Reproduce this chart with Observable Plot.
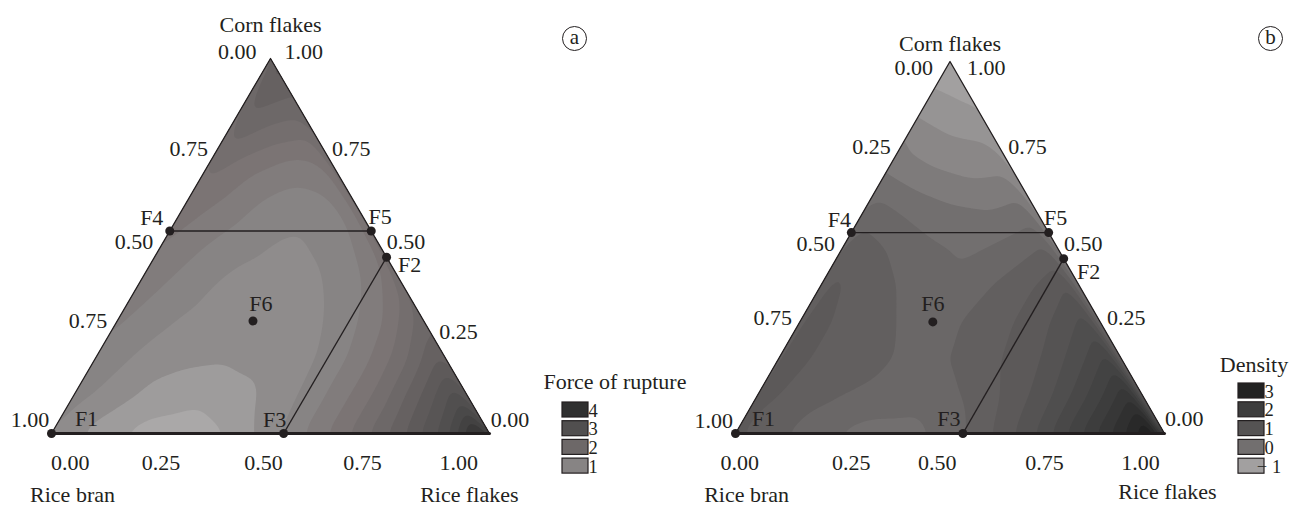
<!DOCTYPE html>
<html>
<head>
<meta charset="utf-8">
<script src="https://cdn.jsdelivr.net/npm/d3@7"></script>
<script src="https://cdn.jsdelivr.net/npm/@observablehq/plot@0.6"></script>
<style>
  html, body { margin: 0; padding: 0; background: #fff; }
  #wrap { position: relative; width: 1303px; height: 508px; overflow: hidden; }
  #wrap svg { position: absolute; top: 0; background: transparent; overflow: visible; }
</style>
</head>
<body>
<div id="wrap"></div>
<script>
// ---------------- data ----------------
const axisTitles = ["Corn flakes", "Rice bran", "Rice flakes"];
const designLabels = ["F1", "F2", "F3", "F4", "F5", "F6"];
const designCorn   = [0.00, 0.47, 0.00, 0.54, 0.54, 0.30];
const designFlakes = [0.00, 0.53, 0.53, 0.00, 0.46, 0.31];
const designLines  = [["F4", "F5"], ["F2", "F3"]];

// response on a lattice of step 0.1
// row i: corn = i/10 ; column j: rice flakes = j/10
const ruptureRows = [
  [1.00, 0.65, 0.42, 0.38, 0.50, 0.90, 1.35, 1.85, 2.45, 3.15, 4.60],
  [1.10, 0.85, 0.62, 0.55, 0.70, 0.95, 1.35, 1.85, 2.55, 3.35],
  [1.20, 0.95, 0.82, 0.78, 0.82, 0.98, 1.35, 1.90, 2.65],
  [1.30, 1.05, 0.90, 0.85, 0.88, 1.05, 1.45, 2.15],
  [1.40, 1.15, 0.95, 0.90, 0.95, 1.20, 1.75],
  [1.50, 1.25, 1.05, 0.95, 1.10, 1.50],
  [1.65, 1.40, 1.15, 1.10, 1.40],
  [1.85, 1.55, 1.35, 1.50],
  [2.15, 1.90, 1.80],
  [2.45, 2.25],
  [2.70]
];
const densityRows = [
  [0.80, 0.55, 0.30, 0.15, 0.15, 0.35, 0.75, 1.25, 1.95, 2.70, 3.60],
  [0.85, 0.65, 0.50, 0.40, 0.35, 0.55, 0.85, 1.30, 1.95, 2.75],
  [0.90, 0.70, 0.60, 0.45, 0.50, 0.70, 0.95, 1.40, 2.05],
  [0.90, 0.70, 0.55, 0.35, 0.55, 0.75, 1.05, 1.50],
  [0.85, 0.65, 0.45, 0.30, 0.50, 0.75, 1.10],
  [0.70, 0.50, 0.30, 0.20, 0.35, 0.60],
  [0.40, 0.20, 0.05, 0.00, 0.15],
  [0.00, -0.20, -0.30, -0.25],
  [-0.35, -0.50, -0.55],
  [-0.65, -0.80],
  [-1.00]
];

// tick labels (as printed) and where they sit (fraction along each side)
const ticksA = {
  leftLabels:   ["0.75", "0.50", "0.75", "1.00"], leftAt:   [0.76, 0.51, 0.30, 0.035],
  rightLabels:  ["0.75", "0.50", "0.25", "0.00"], rightAt:  [0.76, 0.51, 0.27, 0.035],
  bottomLabels: ["0.00", "0.25", "0.50", "0.75", "1.00"], bottomAt: [0.043, 0.25, 0.484, 0.71, 0.93],
  topLabels: ["0.00", "1.00"]
};
const ticksB = {
  leftLabels:   ["0.25", "0.50", "0.75", "1.00"], leftAt:   [0.77, 0.51, 0.31, 0.035],
  rightLabels:  ["0.75", "0.50", "0.25", "0.00"], rightAt:  [0.77, 0.51, 0.31, 0.04],
  bottomLabels: ["0.00", "0.25", "0.50", "0.75", "1.00"], bottomAt: [0.01, 0.27, 0.47, 0.72, 0.944],
  topLabels: ["0.00", "1.00"]
};

const legendA = { title: "Force of rupture", values: [4, 3, 2, 1], labels: ["4", "3", "2", "1"] };
const legendB = { title: "Density", values: [3, 2, 1, 0, -1], labels: ["3", "2", "1", "0", "\u2212 1"] };

const paletteA = {
  domain: [0.3, 0.75, 1.0, 1.5, 2.0, 2.5, 3.0, 3.5, 4.0, 4.6],
  range: ["#aaa8a8", "#8f8c8c", "#878484", "#7b7474", "#6d6868", "#5e5a5a", "#514f4f", "#434242", "#303030", "#0a0a0a"]
};
const paletteB = {
  domain: [-1, -0.5, 0, 0.5, 1.0, 1.5, 2.0, 2.5, 3.0, 3.5],
  range: ["#a2a0a0", "#8a8787", "#726f6f", "#625f5f", "#555353", "#494848", "#3d3d3d", "#303030", "#222222", "#080808"]
};

// ---------------- drawing ----------------
const INK = "#231f20";
const FONT = "'Liberation Serif', 'Times New Roman', serif";

function drawPanel(cfg) {
  const n = cfg.rows.length - 1;
  const grid = [];
  cfg.rows.forEach((row, i) => row.forEach((v, j) => grid.push({ c: i / n, f: j / n, v })));
  const X = d => d.f + d.c / 2;
  const Y = d => d.c;

  const design = designLabels.map((label, i) => ({ label, c: designCorn[i], f: designFlakes[i] }));
  const byLabel = Object.fromEntries(design.map(d => [d.label, d]));
  const links = designLines.map(([a, b]) => ({ a: byLabel[a], b: byLabel[b] }));
  const outline = [{ c: 0, f: 0 }, { c: 0, f: 1 }, { c: 1, f: 0 }, { c: 0, f: 0 }];
  const base = [{ c: 0, f: 0 }, { c: 0, f: 1 }];

  const t = cfg.ticks;
  const leftTicks = t.leftLabels.map((label, i) => ({ label, c: t.leftAt[i], f: 0 }));
  const rightTicks = t.rightLabels.map((label, i) => ({ label, c: t.rightAt[i], f: 1 - t.rightAt[i] }));
  const bottomTicks = t.bottomLabels.map((label, i) => ({ label, c: 0, f: t.bottomAt[i] }));
  const apex = [{ c: 1, f: 0 }];

  const off = cfg.labelOffsets;

  const plot = Plot.plot({
    width: cfg.width, height: 508,
    marginLeft: cfg.ml, marginRight: cfg.mr, marginTop: cfg.mt, marginBottom: cfg.mb,
    x: { domain: [0, 1], axis: null },
    y: { domain: [0, 1], axis: null },
    color: { type: "linear", domain: cfg.palette.domain, range: cfg.palette.range, clamp: true },
    style: { fontFamily: FONT, fontSize: "22px", color: INK, background: "transparent", overflow: "visible" },
    marks: [
      Plot.contour(grid, {
        x: X, y: Y, value: "v", fill: "value",
        interpolate: "barycentric", thresholds: cfg.thresholds, blur: 3, stroke: "none"
      }),
      Plot.line(outline, { x: X, y: Y, stroke: INK, strokeWidth: 1.3 }),
      Plot.line(base, { x: X, y: Y, stroke: INK, strokeWidth: 3 }),
      Plot.link(links, { x1: d => X(d.a), y1: d => Y(d.a), x2: d => X(d.b), y2: d => Y(d.b), stroke: INK, strokeWidth: 1.4 }),
      Plot.dot(design, { x: X, y: Y, r: 4.5, fill: INK }),
      Plot.text(design, { x: X, y: Y, text: "label", fill: INK }),
      // axis tick labels
      Plot.text(leftTicks, { x: X, y: Y, text: "label", textAnchor: "end", dx: -10, fill: INK }),
      Plot.text(rightTicks, { x: X, y: Y, text: "label", textAnchor: "start", dx: 9, fill: INK }),
      Plot.text(bottomTicks, { x: X, y: Y, text: "label", dy: 29, fill: INK }),
      Plot.text(apex, { x: X, y: Y, text: () => t.topLabels[0], textAnchor: "end", dx: -cfg.topDx, dy: cfg.topDy, fill: INK }),
      Plot.text(apex, { x: X, y: Y, text: () => t.topLabels[1], textAnchor: "start", dx: cfg.topDx, dy: cfg.topDy, fill: INK }),
      // axis titles
      Plot.text(apex, { x: X, y: Y, text: () => axisTitles[0], dy: cfg.cornDy, fill: INK }),
      Plot.text([{ c: 0, f: cfg.branAt }], { x: X, y: Y, text: () => axisTitles[1], dy: cfg.branDy, fill: INK }),
      Plot.text([{ c: 0, f: cfg.flakesAt }], { x: X, y: Y, text: () => axisTitles[2], dy: cfg.flakesDy, fill: INK }),
      // panel letter
      Plot.dot([0], { frameAnchor: "top-right", dx: cfg.letterDx, dy: cfg.letterDy, r: 12, stroke: INK, strokeWidth: 1, fill: "none" }),
      Plot.text([cfg.letter], { frameAnchor: "top-right", dx: cfg.letterDx, dy: cfg.letterDy - 1, text: d => d,
        textAnchor: "middle", lineAnchor: "middle", fill: INK, fontSize: 21 })
    ]
  });

  // position the design-point labels (offsets are layout only)
  const labelGroup = Array.from(plot.querySelectorAll('g[aria-label="text"]'))[0];
  if (labelGroup) {
    labelGroup.querySelectorAll("text").forEach((el, i) => {
      const o = off[designLabels[i]];
      const tr = el.getAttribute("transform") || "";
      el.setAttribute("transform", tr + ` translate(${o[0]},${o[1]})`);
    });
  }

  // clip the contour bands to the triangle
  const xs = plot.scale("x"), ys = plot.scale("y");
  const pts = [[0, 0], [1, 0], [0.5, 1]].map(([a, b]) => [xs.apply(a), ys.apply(b)]);
  const sel = d3.select(plot);
  const clipId = "clip-" + cfg.letter;
  sel.insert("defs", ":first-child").append("clipPath").attr("id", clipId)
    .append("polygon").attr("points", pts.map(p => p.join(",")).join(" "));
  sel.select('g[aria-label="contour"]').attr("clip-path", `url(#${clipId})`);

  // legend
  const col = plot.scale("color");
  const lg = sel.append("g").attr("font-family", FONT).attr("fill", INK);
  lg.append("text").attr("x", cfg.legend.titleX).attr("y", cfg.legend.titleY)
    .attr("text-anchor", "middle").attr("dominant-baseline", "central").attr("font-size", 22).text(cfg.legendData.title);
  cfg.legendData.values.forEach((v, i) => {
    const y0 = cfg.legend.top + i * cfg.legend.step;
    lg.append("rect").attr("x", cfg.legend.x).attr("y", y0).attr("width", cfg.legend.w).attr("height", cfg.legend.h)
      .attr("fill", col.apply(v)).attr("stroke", INK).attr("stroke-width", 1.2);
    lg.append("text").attr("x", cfg.legend.x + cfg.legend.w + 5).attr("y", y0 + cfg.legend.h / 2 + 1)
      .attr("dominant-baseline", "central").attr("font-size", 18.5).text(cfg.legendData.labels[i]);
  });

  plot.style.left = cfg.left + "px";
  document.getElementById("wrap").appendChild(plot);
}

drawPanel({
  letter: "a", left: 0, width: 710, ml: 51, mr: 221, mt: 58, mb: 75,
  rows: ruptureRows, palette: paletteA, thresholds: d3.range(0, 5, 0.25),
  ticks: ticksA, topDx: 14, topDy: -7,
  cornDy: -34, branAt: 0.048, branDy: 61, flakesAt: 0.954, flakesDy: 61,
  letterDx: 85, letterDy: -20,
  labelOffsets: { F1: [35, -15], F2: [23, 8], F3: [-9, -14], F4: [-18, -13], F5: [9, -14], F6: [8, -17] },
  legendData: legendA,
  legend: { titleX: 615, titleY: 381, x: 562, top: 402, step: 18.7, w: 26, h: 15 }
});

drawPanel({
  letter: "b", left: 650, width: 653, ml: 85, mr: 139, mt: 61, mb: 75,
  rows: densityRows, palette: paletteB, thresholds: d3.range(-1.25, 4, 0.25),
  ticks: ticksB, topDx: 17, topDy: 6,
  cornDy: -18, branAt: 0.026, branDy: 61, flakesAt: 1.007, flakesDy: 58,
  letterDx: 106, letterDy: -23,
  labelOffsets: { F1: [28, -15], F2: [25, 13], F3: [-14, -15], F4: [-12, -13], F5: [7, -15], F6: [0, -18] },
  legendData: legendB,
  legend: { titleX: 604, titleY: 364, x: 588, top: 383, step: 18.8, w: 26, h: 15 }
});
</script>
</body>
</html>
